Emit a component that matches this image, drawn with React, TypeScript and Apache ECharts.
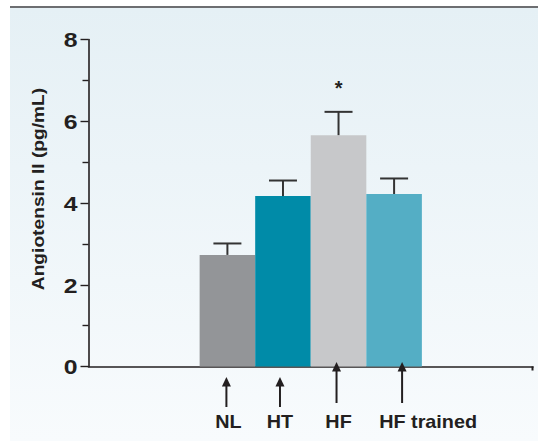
import React, { useEffect, useRef } from "react";
import * as echarts from "echarts";

// ---- data ----
const groups = ["NL", "HT", "HF", "HF trained"];
const means = [2.73, 4.17, 5.66, 4.22];
const sems = [0.28, 0.38, 0.57, 0.38];
const significant = [false, false, true, false];
const yTicks = [0, 2, 4, 6, 8];
const yTitle = "Angiotensin II (pg/mL)";
const padBefore = ["_p1", "_p2"];
const padAfter = ["_p3", "_p4"];

// ---- styles / layout ----
const barColors = ["#939598", "#008ba8", "#c7c8ca", "#54aec5"];
const ink = "#231f20";
const font = "'Liberation Sans', Arial, Helvetica, sans-serif";
const arrowDx = [-1, -3, -2, 8];
const arrowTipBelowAxis = [10.5, 10.5, -4.5, -4.5];
const arrowTailBelowAxis = [40.5, 40.5, 36.5, 36.5];
const labelDx = [1, -3, 0, 34];

export default function App() {
  const ref = useRef<HTMLDivElement>(null);

  useEffect(() => {
    if (!ref.current) return;
    const chart = echarts.init(ref.current, null, { renderer: "svg" });
    const categories = [...padBefore, ...groups, ...padAfter];
    const off = padBefore.length;
    const barData = categories.map((c, i) => {
      const g = i - off;
      if (g < 0 || g >= groups.length) return null;
      return { value: means[g], itemStyle: { color: barColors[g] } };
    });
    const errData = groups.map((g, i) => [i + off, means[i], sems[i]]);

    chart.setOption({
      animation: false,
      grid: { left: 88.5, right: 5, top: 39.5, bottom: 74.5, containLabel: false },
      xAxis: {
        type: "category",
        data: categories,
        boundaryGap: true,
        axisLine: { show: true, lineStyle: { color: ink, width: 1.6 } },
        axisTick: { show: false },
        axisLabel: { show: false },
        splitLine: { show: false },
      },
      yAxis: {
        type: "value",
        min: yTicks[0],
        max: yTicks[yTicks.length - 1],
        interval: yTicks[1] - yTicks[0],
        axisLine: { show: true, lineStyle: { color: ink, width: 1.6 } },
        axisTick: { show: true, length: 8, lineStyle: { color: ink, width: 1.4 } },
        minorTick: { show: true, splitNumber: 2, length: 6, lineStyle: { color: ink, width: 1.4 } },
        axisLabel: { show: false },
        splitLine: { show: false },
      },
      series: [
        {
          type: "bar",
          data: barData,
          barWidth: "100%",
          barGap: "-100%",
          z: 2,
        },
        {
          type: "custom",
          data: errData,
          z: 3,
          renderItem: (params: any, api: any) => {
            const x = api.value(0);
            const m = api.value(1);
            const e = api.value(2);
            const base = api.coord([x, m]);
            const top = api.coord([x, m + e]);
            const half = 14;
            return {
              type: "group",
              children: [
                {
                  type: "line",
                  shape: { x1: base[0], y1: base[1], x2: top[0], y2: top[1] },
                  style: { stroke: "#333", lineWidth: 2 },
                },
                {
                  type: "line",
                  shape: { x1: top[0] - half, y1: top[1], x2: top[0] + half, y2: top[1] },
                  style: { stroke: "#333", lineWidth: 2 },
                },
              ],
            };
          },
        },
      ],
    });

    const px = (i: number, v: number) =>
      chart.convertToPixel({ gridIndex: 0 } as any, [i, v]) as number[];

    const graphics: any[] = [];
    const axisY = px(0, 0)[1];
    const gridLeft = px(0, 0)[0] - (px(1, 0)[0] - px(0, 0)[0]) / 2;

    // y tick labels
    yTicks.forEach((t) => {
      const p = px(0, t);
      graphics.push({
        type: "text",
        x: gridLeft - 11,
        y: p[1] + 0.5,
        scaleX: 1.18,
        style: {
          text: String(t),
          font: `bold 21px ${font}`,
          fill: ink,
          align: "right",
          verticalAlign: "middle",
        },
      });
    });

    // y-axis title
    const yMid = (px(0, yTicks[0])[1] + px(0, yTicks[yTicks.length - 1])[1]) / 2;
    graphics.push({
      type: "text",
      x: 39,
      y: yMid - 14,
      rotation: Math.PI / 2,
      scaleX: 1.2,
      style: {
        text: yTitle,
        font: `bold 16px ${font}`,
        fill: ink,
        align: "center",
        verticalAlign: "middle",
      },
    });
    // right-end tick of x axis
    const rightEnd = px(categories.length - 1, 0)[0] + (px(1, 0)[0] - px(0, 0)[0]) / 2;
    graphics.push({
      type: "line",
      shape: { x1: rightEnd - 0.5, y1: axisY, x2: rightEnd - 0.5, y2: axisY + 4 },
      style: { stroke: ink, lineWidth: 2 },
    });

    groups.forEach((g, i) => {
      const c = px(i + off, 0);
      const ax = c[0] + arrowDx[i];
      const tipY = axisY + arrowTipBelowAxis[i];
      const tailY = axisY + arrowTailBelowAxis[i];
      graphics.push({
        type: "line",
        shape: { x1: ax, y1: tipY + 6, x2: ax, y2: tailY },
        style: { stroke: ink, lineWidth: 2 },
        z: 10,
      });
      graphics.push({
        type: "polygon",
        shape: { points: [[ax, tipY], [ax - 4.5, tipY + 9.5], [ax + 4.5, tipY + 9.5]] },
        style: { fill: ink },
        z: 10,
      });
      graphics.push({
        type: "text",
        x: c[0] + labelDx[i],
        y: 421.5,
        scaleX: 1.1,
        style: {
          text: g,
          font: `bold 18px ${font}`,
          fill: ink,
          align: "center",
          verticalAlign: "middle",
        },
      });
      if (significant[i]) {
        const t = px(i + off, means[i] + sems[i]);
        graphics.push({
          type: "text",
          x: t[0],
          y: t[1] - 24,
          style: {
            text: "*",
            font: `bold 20px ${font}`,
            fill: ink,
            align: "center",
            verticalAlign: "middle",
          },
        });
      }
    });

    chart.setOption({ graphic: graphics });

    return () => chart.dispose();
  }, []);

  return (
    <div style={{ position: "fixed", left: 0, top: 0, width: 538, height: 441, background: "#ffffff", overflow: "hidden" }}>
      <div
        style={{
          position: "absolute",
          left: 10,
          top: 6,
          right: 0,
          bottom: 0,
          borderTop: "2px solid #6d6e71",
          background: "linear-gradient(#e5f0f5, #f8fbfd)",
        }}
      />
      <div ref={ref} style={{ position: "absolute", left: 0, top: 0, width: 538, height: 441 }} />
    </div>
  );
}
